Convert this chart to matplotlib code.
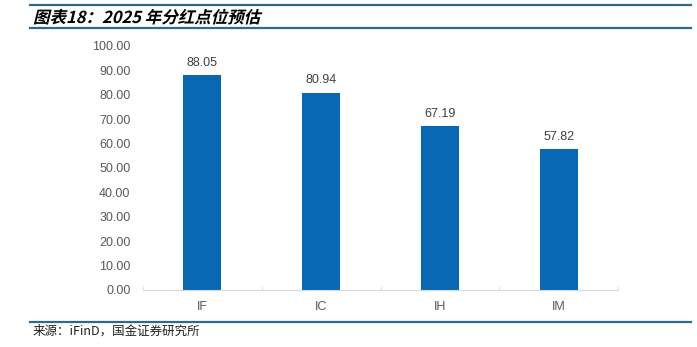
import matplotlib
matplotlib.use("Agg")
import matplotlib.pyplot as plt
from matplotlib.textpath import TextPath
from matplotlib.patches import PathPatch
from matplotlib.font_manager import FontProperties
from matplotlib.transforms import Affine2D
from matplotlib.lines import Line2D

# data
categories = ["IF", "IC", "IH", "IM"]
values = [88.05, 80.94, 67.19, 57.82]
yticks = [0, 10, 20, 30, 40, 50, 60, 70, 80, 90, 100]

W, H = 697, 347
fig = plt.figure(figsize=(W / 100, H / 100), dpi=100)
ax = fig.add_axes([143 / W, 1 - 290 / H, (618 - 143) / W, (290 - 46) / H])

x = range(len(categories))
bars = ax.bar(x, values, width=0.32, color="#0868B4", zorder=2)
for xi, v in zip(x, values):
    ax.annotate(f"{v:.2f}", (xi, v), xytext=(0, 4.5), textcoords="offset points",
                ha="center", va="bottom", fontsize=9, color="#404040",
                family="Liberation Sans")

ax.set_xlim(-0.5, len(categories) - 0.5)
ax.set_ylim(0, 100)
ax.set_yticks(yticks)
ax.set_yticklabels([f"{t:.2f}" for t in yticks], family="Liberation Sans",
                   fontsize=9, color="#595959")
ax.set_xticks(list(x))
ax.set_xticklabels(categories, family="Liberation Sans", fontsize=9, color="#595959")
ax.tick_params(axis="y", length=0, pad=9)
ax.tick_params(axis="x", which="major", length=0, pad=8)
ax.set_xticks([i - 0.5 for i in range(len(categories) + 1)], minor=True)
ax.tick_params(axis="x", which="minor", length=3, direction="in", color="#d9d9d9")
for s in ["top", "right", "left"]:
    ax.spines[s].set_visible(False)
ax.spines["bottom"].set_color("#d9d9d9")

# header / footer lines
for yy in [5, 28, 322]:
    fig.add_artist(Line2D([30 / W, 691 / W], [1 - yy / H, 1 - yy / H],
                          transform=fig.transFigure, color="#2F6A8E", lw=1.6))

# title in fake bold italic (CJK fonts have no italic)
title = "图表18：2025 年分红点位预估"
fp = FontProperties(family=["Noto Sans CJK SC", "DejaVu Sans"], weight="bold")
tp = TextPath((0, 0), title, size=16.5, prop=fp)
tr = Affine2D().skew_deg(14, 0).translate(33, H - 23)
patch = PathPatch(tr.transform_path(tp), facecolor="black", edgecolor="none",
                  transform=None)
fig.add_artist(patch)

fig.text(33 / W, 1 - 331 / H, "来源：iFinD，国金证券研究所", fontsize=9,
         family=["Noto Sans CJK SC", "DejaVu Sans"], color="#222222", va="center")

fig.savefig("out.png", dpi=100)
